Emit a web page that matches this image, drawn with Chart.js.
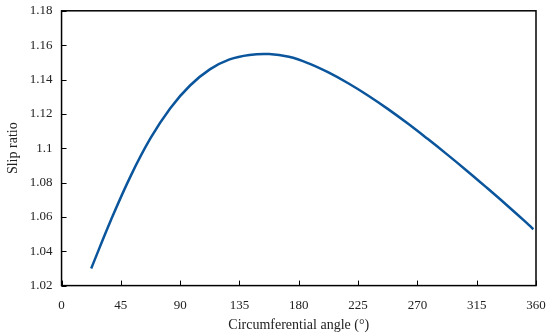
<!DOCTYPE html>
<html>
<head>
<meta charset="utf-8">
<script src="https://cdn.jsdelivr.net/npm/chart.js@4"></script>
<style>
  html, body { margin: 0; padding: 0; background: #fff; }
  #wrap { width: 550px; height: 336px; }
</style>
</head>
<body>
<div id="wrap"><canvas id="myChart"></canvas></div>
<script>
// values
const angles = [22.5, 37.5, 52.5, 67.5, 82.5, 97.5, 112.5, 127.5, 142.5, 157.5, 172.5, 187.5, 202.5, 217.5, 232.5, 247.5, 262.5, 277.5, 292.5, 307.5, 322.5, 337.5, 352.5, 358];
const slipRatio = [1.0300, 1.0582, 1.0839, 1.1058, 1.1233, 1.1365, 1.1459, 1.1517, 1.1543, 1.1548, 1.1532, 1.1494, 1.1441, 1.1378, 1.1307, 1.1229, 1.1145, 1.1056, 1.0964, 1.0869, 1.0771, 1.0671, 1.0568, 1.0528];
const xTicks = [0, 45, 90, 135, 180, 225, 270, 315, 360];
const yTicks = [1.02, 1.04, 1.06, 1.08, 1.1, 1.12, 1.14, 1.16, 1.18];

const points = angles.map((a, i) => { return {x: a, y: slipRatio[i]}; });

const fontFamily = "'Liberation Serif', 'DejaVu Serif', serif";

// box around plot + inward tick marks
const frame = {
  id: 'frame',
  afterDraw(chart) {
    const c = chart.ctx;
    const a = chart.chartArea;
    c.save();
    c.strokeStyle = '#000';
    c.lineWidth = 1.5;
    c.strokeRect(a.left, a.top, a.right - a.left, a.bottom - a.top);
    c.lineWidth = 1;
    const xs = chart.scales.x;
    xs.ticks.forEach((t, i) => {
      const px = Math.round(xs.getPixelForTick(i)) + 0.5;
      c.beginPath();
      c.moveTo(px, a.bottom);
      c.lineTo(px, a.bottom - 5);
      c.stroke();
    });
    const ys = chart.scales.y;
    ys.ticks.forEach((t, i) => {
      const py = Math.round(ys.getPixelForTick(i)) + 0.5;
      c.beginPath();
      c.moveTo(a.left, py);
      c.lineTo(a.left + 5, py);
      c.stroke();
    });
    c.restore();
  }
};

const ctx = document.getElementById('myChart');

new Chart(ctx, {
  type: 'scatter',
  data: {
    datasets: [{
      label: 'Slip ratio',
      data: points,
      showLine: true,
      borderColor: '#0a559c',
      borderWidth: 2.5,
      pointRadius: 0,
      tension: 0.4
    }]
  },
  options: {
    responsive: true,
    maintainAspectRatio: false,
    animation: false,
    layout: { padding: { top: 0, right: 14, left: 0, bottom: 0 } },
    plugins: {
      legend: { display: false },
      tooltip: { enabled: false }
    },
    scales: {
      x: {
        type: 'linear',
        min: 0,
        max: 360,
        afterBuildTicks: (axis) => { axis.ticks = xTicks.map((v) => ({value: v})); },
        grid: { drawOnChartArea: false, drawTicks: true, tickLength: 9, tickColor: 'rgba(0,0,0,0)' },
        border: { display: false },
        ticks: {
          color: '#222',
          padding: 3,
          maxRotation: 0,
          font: { family: fontFamily, size: 13 }
        },
        title: {
          display: true,
          text: 'Circumferential angle (°)',
          color: '#222',
          padding: { top: 1, bottom: 2 },
          font: { family: fontFamily, size: 14 }
        }
      },
      y: {
        type: 'linear',
        min: 1.02,
        max: 1.18,
        afterBuildTicks: (axis) => { axis.ticks = yTicks.map((v) => ({value: v})); },
        grid: { drawOnChartArea: false, drawTicks: true, tickLength: 6, tickColor: 'rgba(0,0,0,0)' },
        border: { display: false },
        ticks: {
          color: '#222',
          padding: 3,
          font: { family: fontFamily, size: 13 },
          callback: (v) => String(Number(v.toFixed(2)))
        },
        title: {
          display: true,
          text: 'Slip ratio',
          color: '#222',
          padding: { top: 5, bottom: 5 },
          font: { family: fontFamily, size: 14 }
        }
      }
    }
  },
  plugins: [frame]
});
</script>
</body>
</html>
